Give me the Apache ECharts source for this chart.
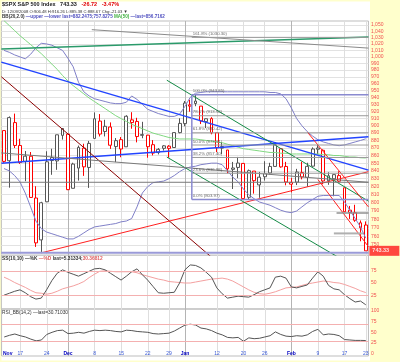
<!DOCTYPE html>
<html><head><meta charset="utf-8">
<script src="https://cdn.jsdelivr.net/npm/echarts@6.0.0/dist/echarts.min.js"></script>
<style>html,body{margin:0;padding:0;background:#ffffcc}#c{width:400px;height:362px}</style>
</head><body><div id="c"></div>
<script>
// ---------------- DATA ----------------
const dates = ['11/12','11/13','11/14','11/17','11/18','11/19','11/20','11/21','11/24','11/25','11/26','11/28',
 '12/01','12/02','12/03','12/04','12/05','12/08','12/09','12/10','12/11','12/12','12/15','12/16','12/17','12/18','12/19','12/22','12/23','12/24','12/26','12/29','12/30','12/31',
 '01/02','01/05','01/06','01/07','01/08','01/09','01/12','01/13','01/14','01/15','01/16','01/20','01/21','01/22','01/23','01/26','01/27','01/28','01/29','01/30',
 '02/02','02/03','02/04','02/05','02/06','02/09','02/10','02/11','02/12','02/13','02/17','02/18','02/19','02/20','02/23'];
const opens = [893.39,853.13,904.36,873.23,852.34,859.03,805.87,755.84,801.20,853.40,852.90,886.89,
 888.61,817.94,843.60,869.75,844.43,882.71,906.48,892.17,898.35,871.79,881.07,871.53,908.16,905.98,886.96,887.20,874.31,863.87,869.51,872.37,870.58,890.59,
 902.99,929.17,931.17,927.45,905.73,909.91,890.40,869.79,867.28,841.99,844.45,849.64,806.77,839.74,822.16,832.50,837.30,845.73,868.89,845.69,
 823.09,825.69,837.77,831.75,846.09,868.24,866.87,827.41,829.91,833.95,818.61,791.06,787.91,775.87,773.25];
const highs = [893.39,913.01,916.88,882.29,865.90,864.57,820.52,801.20,865.60,868.94,887.68,896.25,
 888.61,850.54,873.12,875.60,879.42,918.57,916.26,908.27,904.63,883.24,884.63,914.66,918.85,911.02,905.47,887.37,880.44,869.79,873.74,873.70,891.12,910.32,
 934.73,936.63,943.85,927.45,910.00,911.93,890.40,877.02,867.28,851.59,858.13,849.64,841.72,839.74,838.61,852.53,850.45,877.86,868.89,851.66,
 830.78,842.60,851.85,850.55,870.75,875.01,868.05,838.22,835.48,839.43,818.61,796.17,797.58,778.69,777.52];
const lows = [850.48,818.69,869.88,848.98,826.84,806.18,747.78,741.02,801.20,834.99,841.37,881.21,
 815.69,817.94,827.60,833.60,818.41,882.71,885.38,885.45,868.73,851.35,857.72,871.53,895.94,877.44,883.02,857.09,860.10,861.44,866.52,857.07,870.58,889.67,
 899.35,919.53,927.28,902.37,896.81,888.31,864.32,862.02,836.93,817.04,830.66,804.47,804.30,811.29,806.07,827.69,835.40,845.73,844.15,821.67,
 812.87,821.98,829.18,819.91,845.42,861.65,822.99,822.30,808.06,825.21,789.17,780.43,777.03,754.25,743.33];
const closes = [852.30,911.29,873.29,850.75,859.12,806.58,752.44,800.03,851.81,857.39,887.68,896.24,
 816.21,848.81,870.74,845.22,876.07,909.70,888.67,899.24,873.59,879.73,868.57,913.18,904.42,885.28,887.88,871.63,863.16,868.15,872.80,869.42,890.64,903.25,
 931.80,927.45,934.70,906.65,909.73,890.35,870.26,871.79,842.62,843.74,850.12,805.22,840.24,827.50,831.95,836.57,845.71,874.09,845.14,825.88,
 825.44,838.51,832.23,845.85,868.60,869.89,827.16,833.74,835.19,826.84,789.17,788.42,778.94,770.05,743.33];
const prevClose = 898.95;

const bbUpper = [1010,1007,1003,1000,997,1004,1014,1021,1020,1018,1014,1010,
 998,985,962,948,942,938,936,934,932,931,931,933,942,937,930,923,920,917,915,913,913,916,
 927,940,946,947,948,948,948,948,948,948,948,948,948,948,948,948,947,947,945,938,
 925,910,900,892,886,881,878,876,874,873,874,876,878,880,882.25];
const bbLower = [843,840,834,826,812,795,778,769,765,763,761,759,
 757,757,760,764,768,771,772,773,774,775,777,778,781,795,812,820,825,826,827,830,834,839,
 843,845,846,848,849,850,850,848,840,832,826,817,810,805,801,799,797,794,791,789,
 788,790,795,800,804,808,809,809,809,809,801,791,781,771,757.83];
const ma50 = [1057,1049,1041,1033,1026,1019,1012,1005,997,989,981,972,
 964,957,951,945,939,934,929,924,919,914,910,906,902,899,896,893,890,888,886,884,883,882,
 882,882,882,881,880,879,878,877,875,873,871,869,868,867,866,865,864,864,863,863,
 862,862,862,862,862,862,861,861,860,860,859,858,858,857,856.72];

const ssK = [25,29,33,36,30,22,17,19,36,55,70,77,
 72,68,64,69,74,79,80,77,70,63,56,64,73,79,67,56,43,30,29,30,31,50,
 77,87,86,81,72,62,40,28,19,21,23,22,21,26,32,36,40,62,64,60,
 42,40,43,46,60,73,64,45,38,36,26,18,11,13,5.31];
const ssD = [62,57,51,46,41,35,30,29,27,29,33,38,
 41,44,48,53,61,68,74,75,74,73,73,73,73,71,67,64,61,58,56,53,52,51,
 50,50,52,54,56,58,59,60,58,54,48,42,36,31,28,27,29,32,36,40,
 41,42,45,48,50,52,54,53,51,50,47,43,39,34,30.37];
const rsi = [39,43,46,42,39,34,30,32,45,50,54,55,
 47,48,50,48,52,55,54,55,54,52,51,55,54,52,51,50,47,46,47,48,53,60,
 67,69,67,60,58,54,48,44,38,37,38,29,37,35,36,39,42,51,45,41,
 40,42,41,44,52,57,44,46,45,42,33,32,31,31,30.71];

const priceGrid = [740,750,760,770,780,790,800,810,820,830,840,850,860,870,880,890,900,910,920,930,940,950,960,970,980,990,1000,1010,1020,1030,1040,1050];
const priceLabels = priceGrid.slice(1);
const ssLabels = [25,50,75];
const ssLevels = [75,25];
const rsiLabels = [0,25,50,75,100];
const rsiLevels = [70,30];
const dateTickIdx = [0,3,8,12,17,22,27,31,34,40,45,49,54,59,64,68];
const dateTickText = ['Nov','17','24','Dec','8','15','22','29','Jan','12','20','26','Feb','9','17','23'];
const monthNames = ['Nov','Dec','Jan','Feb'];

// Fibonacci retracement (Jan 6 high -> Jan 20 low)
const fibHigh = 943.85, fibLow = 803.97, fibStartIdx = 35.3;
const fibLevels = [0,23.6,38.2,50,61.8,78.6,100,161.8];

// trendlines: endpoints in [bar index, price]
const trendLines = [
 [[-0.5,1012],[68.5,1031]],
 [[16.5,1042.5],[68.5,1013.5]],
 [[-0.5,992],[68.5,841]],
 [[-0.5,850],[68.5,885]],
 [[-0.5,970],[40,731]],
 [[7,741.02],[68.5,839]],
 [[30.6,965],[68.5,802]],
 [[30.6,858],[63,735.5]],
 [[57,891.5],[68.5,795]],
 [[59,829],[68.5,748]],
 [[-0.5,863.4],[68.5,825.5]],
 [[-0.5,825.5],[68.5,825.5]],
 [[-0.5,741.02],[68.5,741.02]],
 [[62.5,787.5],[68.5,787.5]],
 [[62,763.4],[67.5,763.4]]
];
// ---------------- STYLES ----------------
const trendStyles = [
 ['#2a9a6a',1.5],['#8a8a8a',1],['#2244ff',1.5],['#2244ff',1.5],['#8b0000',1],['#ff2020',1],
 ['#138a45',1],['#138a45',1],['#ff2020',1],['#ff2020',1],['#7a7a7a',1],['#7a7a7a',1],
 ['#9a9ad8',2],['#909090',1.5],['#b0b0b0',2]
];
const RED = '#ff0000', BLK = '#555555', LAV = '#8a8ad0';
const FONT = 'Liberation Sans, Arial, sans-serif';

const chart = echarts.init(document.getElementById('c'), null, {width:400, height:362});

const candleData = dates.map((d,i)=>{
  const pc = i === 0 ? prevClose : closes[i-1];
  const col = closes[i] < pc ? RED : BLK;
  return {value:[i, opens[i], closes[i], lows[i], highs[i]],
    itemStyle:{color:'#ffffff', color0:col, borderColor:col, borderColor0:col}};
});

function ln(data, color, width, xi, yi, extra){
  return Object.assign({type:'line', xAxisIndex:xi||0, yAxisIndex:yi||0, data:data,
    symbol:'none', showSymbol:false, silent:true, animation:false, clip:true, z:4,
    lineStyle:{color:color, width:width}}, extra||{});
}

const series = [];
series.push({type:'candlestick', xAxisIndex:0, yAxisIndex:0, data:candleData, barWidth:3.4,
  itemStyle:{borderWidth:1}, silent:true, animation:false, z:3});
series.push(ln(bbUpper.map((v,i)=>[i,v]), '#8080c8', 1));
series.push(ln(bbLower.map((v,i)=>[i,v]), '#8080c8', 1));
series.push(ln(ma50.map((v,i)=>[i,v]), '#80d880', 1));
trendLines.forEach((pts,k)=>{ series.push(ln(pts, trendStyles[k][0], trendStyles[k][1], 0, 0, {z:5})); });

const fibRange = fibHigh - fibLow;
const fibLabelData = [];
fibLevels.forEach(p=>{
  const v = fibLow + fibRange * p / 100;
  const edge = (p === 0 || p === 100);
  series.push(ln([[fibStartIdx, v],[68.5, v]], edge ? LAV : '#9a9a9a', edge ? 1.5 : 1, 0, 0, {z:5}));
  fibLabelData.push({value:[fibStartIdx, v], name: p.toFixed(1) + '% (' + v.toFixed(2) + ')'});
});
series.push(ln([[fibStartIdx, fibLow],[fibStartIdx, fibHigh]], LAV, 1.5, 0, 0, {z:5}));
series.push({type:'scatter', xAxisIndex:0, yAxisIndex:0, data:fibLabelData, symbolSize:0.1,
  itemStyle:{color:'rgba(0,0,0,0)'}, silent:true, animation:false, z:7,
  label:{show:true, formatter:'{b}', position:[1,-5.5], fontSize:4.3, color:'#444', fontFamily:FONT}});
const last = closes.length - 1;
series.push({type:'scatter', xAxisIndex:0, yAxisIndex:0, symbolSize:0.1, itemStyle:{color:'rgba(0,0,0,0)'},
  data:[{value:[last, closes[last]], name: closes[last].toFixed(2)}], silent:true, animation:false, z:8,
  label:{show:true, formatter:'{b}', position:'right', distance:3.5, backgroundColor:'#ff1a1a',
    color:'#fff', fontSize:5.5, fontWeight:'bold', fontFamily:FONT, padding:[2,3,2,3], width:24}});

// SS panel
series.push(ln(ssD.map((v,i)=>[i,v]), '#f4a0a0', 1, 1, 1, {
  markLine:{silent:true, symbol:'none', animation:false, label:{show:false},
    lineStyle:{color:'#f4b0b0', type:'solid', width:1.2}, data: ssLevels.map(v=>({yAxis:v}))}}));
series.push(ln(ssK.map((v,i)=>[i,v]), '#555', 1, 1, 1));
// RSI panel
series.push(ln(rsi.map((v,i)=>[i,v]), '#555', 1, 2, 2, {
  markLine:{silent:true, symbol:'none', animation:false, label:{show:false},
    lineStyle:{color:'#f4b0b0', type:'solid', width:1.2}, data: rsiLevels.map(v=>({yAxis:v}))}}));

const gridTicks = dateTickIdx.slice(1);
const gridColors = gridTicks.map(i => monthNames.indexOf(dateTickText[dateTickIdx.indexOf(i)]) >= 0 ? '#b4b4b4' : '#dedede');

function xAxisCfg(gi, show){
  return {type:'value', gridIndex:gi, min:-0.5, max:68.5,
    axisLine:{show:false}, axisTick:{show:false, customValues:gridTicks},
    splitLine:{show:true, lineStyle:{color:gridColors, width:1}},
    axisLabel: show ? {show:true, customValues:dateTickIdx, margin:-4.5, fontFamily:FONT, fontSize:5,
      formatter: v => {
        const k = dateTickIdx.indexOf(Math.round(v));
        if (k < 0) return '';
        const t = dateTickText[k];
        if (monthNames.indexOf(t) >= 0) return (k === 0 ? '{m0|' : '{m|') + t + '}';
        return '{d|' + t + '}';
      },
      rich:{m:{color:'#0000c0', fontWeight:'bold', fontSize:5, fontFamily:FONT},
            m0:{color:'#0000c0', fontWeight:'bold', fontSize:5, fontFamily:FONT, padding:[0,0,0,7]},
            d:{color:'#3a5ad8', fontSize:5, fontFamily:FONT}}} : {show:false}};
}
const axLbl = {fontSize:5, color:'#f05050', margin:2.5, fontFamily:FONT};

const option = {
  backgroundColor:'#ffffcc',
  animation:false,
  graphic:[{type:'rect', shape:{x:1.5, y:1.5, width:368.5, height:359}, style:{fill:'#ffffff'}, z:-10, silent:true}],
  title:[
    {left:2, top:1.5, padding:0, text:'{a|$SPX S&P 500 Index}   {a|743.33}   {c|-26.72}   {c|-3.47%}',
      textStyle:{fontSize:5.5, fontFamily:FONT, rich:{a:{fontSize:5.5,fontWeight:'bold',color:'#222',fontFamily:FONT}, c:{fontSize:5.5,fontWeight:'bold',color:'#e00000',fontFamily:FONT}}}},
    {left:2, top:9.5, padding:0, text:'D: 12/09/2008 O:906.48 H:916.26 L:885.38 C:888.67 Chg:-21.03 ▼',
      textStyle:{fontSize:4.2, fontFamily:FONT, color:'#333', fontWeight:'normal'}},
    {left:2, top:14, padding:0, text:'{k|BB(20,2.0)} {u|—upper —lower last=882.2475;757.8275} {g|MA(50)} {u|—last=856.7162}',
      textStyle:{fontSize:4.6, fontFamily:FONT, rich:{k:{color:'#333',fontSize:4.6,fontFamily:FONT}, u:{color:'#5050c0',fontSize:4.6,fontFamily:FONT}, g:{color:'#40b040',fontSize:4.6,fontFamily:FONT}}}},
    {left:2, top:256.5, padding:0, text:'{k|SS(10,10) —%K} {p|—%D} {k|last=5.31334;}{p|30.36812}',
      textStyle:{fontSize:4.8, fontFamily:FONT, rich:{k:{color:'#333',fontSize:4.8,fontFamily:FONT}, p:{color:'#e06060',fontSize:4.8,fontFamily:FONT}}}},
    {left:2, top:310.5, padding:0, text:'RSI_BB(14,2) —last=30.71030',
      textStyle:{fontSize:4.8, fontFamily:FONT, color:'#333', fontWeight:'normal'}}
  ],
  grid:[
    {left:1.35, top:21, width:367.1, height:234, show:true, borderColor:'#bdbdbd', borderWidth:1, backgroundColor:'transparent'},
    {left:1.35, top:255, width:367.1, height:54, show:true, borderColor:'#bdbdbd', borderWidth:1, backgroundColor:'transparent'},
    {left:1.35, top:309, width:367.1, height:47, show:true, borderColor:'#bdbdbd', borderWidth:1, backgroundColor:'transparent'}
  ],
  xAxis:[xAxisCfg(0,false), xAxisCfg(1,false), xAxisCfg(2,true)],
  yAxis:[
    {type:'log', logBase:10, gridIndex:0, position:'right', min:738.6, max:1056.4,
      axisLine:{show:false}, axisTick:{show:false, customValues:priceGrid},
      splitLine:{show:true, lineStyle:{color:'#e2e2e2', width:1}},
      axisLabel:Object.assign({customValues:priceLabels, formatter: v => Math.round(v).toLocaleString('en-US')}, axLbl)},
    {type:'value', gridIndex:1, position:'right', min:-3.3, max:107.4,
      axisLine:{show:false}, axisTick:{show:false}, splitLine:{show:false},
      axisLabel:Object.assign({customValues:ssLabels}, axLbl)},
    {type:'value', gridIndex:2, position:'right', min:-5.6, max:104.7,
      axisLine:{show:false}, axisTick:{show:false}, splitLine:{show:false},
      axisLabel:Object.assign({customValues:rsiLabels}, axLbl)}
  ],
  series: series
};
chart.setOption(option);
</script>
</body></html>
